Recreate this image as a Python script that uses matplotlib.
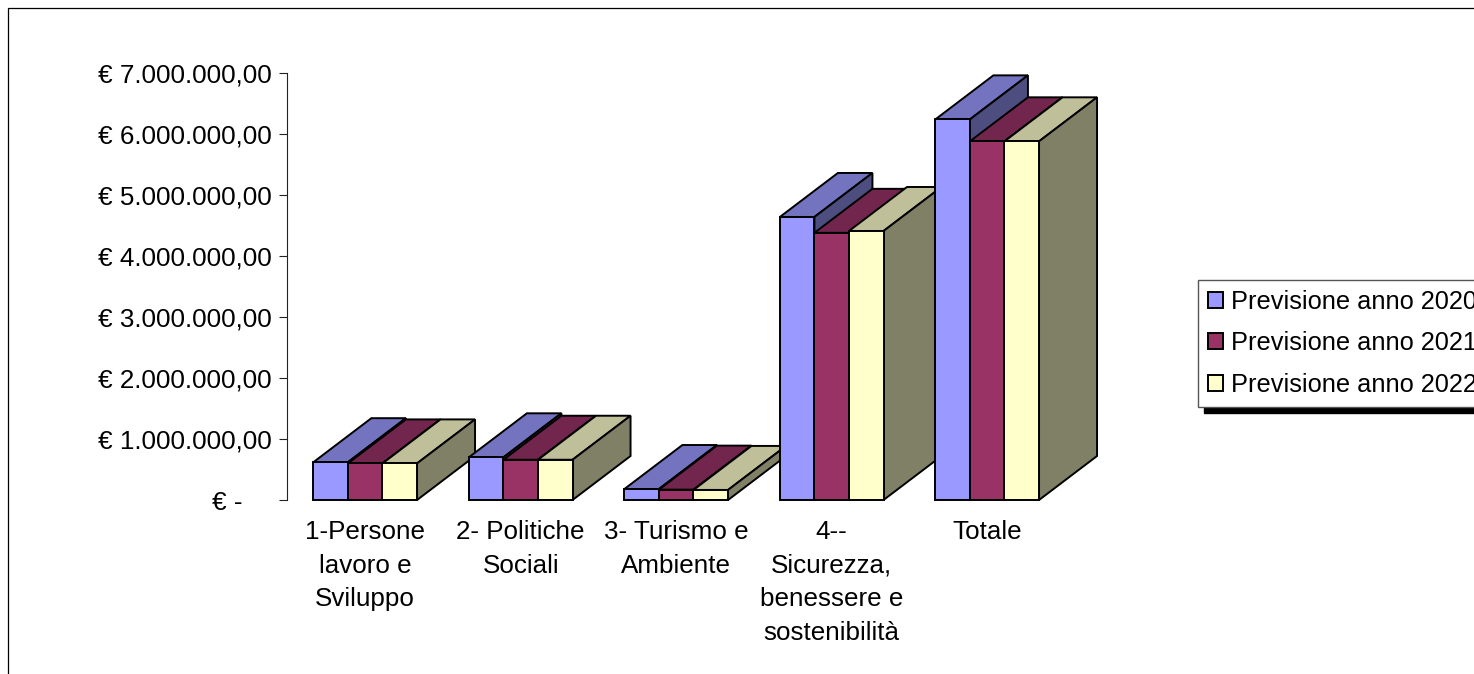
import matplotlib
matplotlib.use("Agg")
import matplotlib.pyplot as plt
from matplotlib.patches import Rectangle

plt.rcParams['font.family'] = ['Liberation Sans', 'DejaVu Sans']

categories = ["1-Persone\nlavoro e\nSviluppo", "2- Politiche\nSociali", "3- Turismo e\nAmbiente",
              "4--\nSicurezza,\nbenessere e\nsostenibilità", "Totale"]
series_names = ["Previsione anno 2020", "Previsione anno 2021", "Previsione anno 2022"]
v2020 = [620000, 700000, 180000, 4640000, 6240000]
v2021 = [600000, 660000, 170000, 4380000, 5880000]
v2022 = [600000, 660000, 165000, 4410000, 5880000]
y_ticks = [0, 1000000, 2000000, 3000000, 4000000, 5000000, 6000000, 7000000]
y_labels = ["€ -    ", "€ 1.000.000,00", "€ 2.000.000,00", "€ 3.000.000,00", "€ 4.000.000,00",
            "€ 5.000.000,00", "€ 6.000.000,00", "€ 7.000.000,00"]
front = ["#9999FF", "#993366", "#FFFFCC"]
top = ["#7373BF", "#73264D", "#BFBF99"]
side = ["#4D4D80", "#4D1A33", "#808066"]

W, H = 1474, 674
FS = 18.75
fig = plt.figure(figsize=(W / 100, H / 100), dpi=100, facecolor="white")
ax = fig.add_axes([287 / W, 1 - 500 / H, 777.5 / W, 427 / H])
ax.set_xlim(-0.503, 4.497)
ax.set_ylim(0, 7000000)
ax.patch.set_visible(False)

bar_w = 0.2222
depth_x = 58 / 155.5
depth_y = 44 / 61 * 1e6
lw = 1.4
z = 3
for c in range(len(categories)):
    for s, vals in enumerate([v2020, v2021, v2022]):
        left = c - 1.5 * bar_w + s * bar_w
        right = left + bar_w
        v = vals[c]
        ax.fill([left, right, right + depth_x, left + depth_x], [v, v, v + depth_y, v + depth_y],
                facecolor=top[s], edgecolor="black", lw=lw, clip_on=False, zorder=z, joinstyle="miter")
        ax.fill([right, right + depth_x, right + depth_x, right], [0, depth_y, v + depth_y, v],
                facecolor=side[s], edgecolor="black", lw=lw, clip_on=False, zorder=z, joinstyle="miter")
        ax.bar(left, v, width=bar_w, align="edge", color=front[s], edgecolor="black", lw=lw,
               clip_on=False, zorder=z + 0.5, label=series_names[s] if c == 0 else None)
        z += 1

for sp in ("top", "right", "bottom"):
    ax.spines[sp].set_visible(False)
ax.spines["left"].set_color("#222222")
ax.spines["left"].set_linewidth(0.8)
ax.set_yticks(y_ticks)
ax.set_yticklabels(y_labels, fontsize=FS)
ax.tick_params(axis="y", length=5.8, width=0.8, pad=5, color="#222222")
ax.set_xticks(range(len(categories)))
ax.set_xticklabels(categories, fontsize=FS, linespacing=1.5, ha="center")
ax.tick_params(axis="x", length=0, pad=14.5)

leg = ax.legend(loc="upper left", bbox_to_anchor=(1198 / W, 1 - 280 / H), bbox_transform=fig.transFigure,
                fontsize=18.25, fancybox=False, frameon=True, framealpha=1, edgecolor="#555555",
                borderaxespad=0, borderpad=0.38, handlelength=0.6, handleheight=0.6, handletextpad=0.32,
                labelspacing=0.70,
                shadow={"ox": 4, "oy": -4.5, "facecolor": "black", "edgecolor": "black", "alpha": 1})
leg.get_frame().set_linewidth(1.0)

fig.add_artist(Rectangle((8 / W, -0.1), 1.1, 1.1 - 8 / H, transform=fig.transFigure,
                         fill=False, edgecolor="black", lw=0.9))
fig.savefig("out.png", dpi=100)
